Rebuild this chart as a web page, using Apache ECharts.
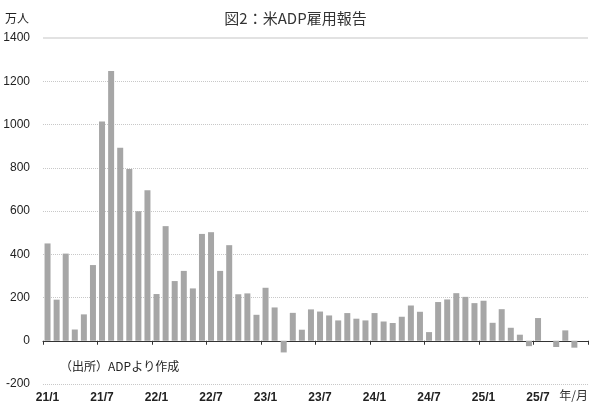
<!DOCTYPE html>
<html lang="ja">
<head>
	<meta charset="UTF-8">
	<title>図2：米ADP雇用報告</title>
	<style type="text/css">
		html, body { margin: 0; padding: 0; background: #fff; }
		#a { width: 591px; height: 411px; }
	</style>
</head>
<body>
	<div id="a"></div>
	<script type="text/javascript" src="https://cdn.jsdelivr.net/npm/echarts@6/dist/echarts.min.js"></script>
	<script type="text/javascript">
		// 月ラベル (21/1 ～ 25/12)
		var months = [];
		for (var y = 21; y <= 25; y++) {
			for (var m = 1; m <= 12; m++) {
				months.push(y + '/' + m);
			}
		}
		// 雇用者数の前月比増減 (万人)、グラフから読み取り
		var jobs2021 = [450, 190, 403, 52, 122, 350, 1014, 1247, 892, 794, 599, 696];
		var jobs2022 = [216, 530, 276, 323, 242, 494, 502, 323, 442, 215, 219, 120];
		var jobs2023 = [245, 154, -54, 129, 51, 145, 135, 117, 94, 128, 102, 94];
		var jobs2024 = [128, 89, 82, 111, 163, 134, 40, 179, 191, 220, 203, 174];
		var jobs2025 = [185, 83, 146, 60, 28, -25, 105, null, -29, 48, -32, null];
		var jobs = jobs2021.concat(jobs2022, jobs2023, jobs2024, jobs2025);
		var yTicks = [-200, 0, 200, 400, 600, 800, 1000, 1200, 1400];

		var jpFont = '"Noto Sans CJK JP", sans-serif';
		var numFont = '"Liberation Sans", Arial, sans-serif';
		var myChart = echarts.init(document.getElementById('a'));
		var option = {
			animation: false,
			textStyle: { fontFamily: jpFont },
			title: [{
				text: '図2：米ADP雇用報告',
				left: 'center',
				top: 6,
				textStyle: { fontSize: 15, fontWeight: 'normal', color: '#333', fontFamily: jpFont }
			}, {
				text: '（出所）ADPより作成',
				left: 55,
				top: 355,
				textStyle: { fontSize: 12, fontWeight: 'normal', color: '#222', fontFamily: jpFont }
			}],
			grid: { left: 43, right: 3, top: 38, bottom: 27, containLabel: false, outerBoundsMode: 'none' },
			xAxis: {
				type: 'category',
				data: months,
				name: '年/月',
				nameLocation: 'end',
				nameGap: 0,
				nameTextStyle: { fontSize: 12, color: '#333', align: 'right', verticalAlign: 'top', padding: [49, 0, 0, 0] },
				axisLine: { show: true, onZero: true, lineStyle: { color: '#333', width: 1 } },
				axisTick: { show: true, interval: 5, alignWithLabel: false, length: 4, lineStyle: { color: '#333' } },
				axisLabel: { interval: 5, fontSize: 12, fontWeight: 'bold', fontFamily: numFont, color: '#222', margin: 8 }
			},
			yAxis: {
				type: 'value',
				min: yTicks[0],
				max: yTicks[yTicks.length - 1],
				interval: 200,
				name: '万人',
				nameLocation: 'end',
				nameGap: 14,
				nameTextStyle: { fontSize: 12, color: '#222', align: 'left', padding: [0, 0, 0, -38] },
				axisLine: { show: false },
				axisTick: { show: false },
				axisLabel: {
					fontSize: 12, fontFamily: numFont, color: '#222', margin: 13,
					formatter: function (v) { return String(v); }
				},
				splitLine: { lineStyle: { color: '#c8c8c8', type: 'dotted', width: 1 } }
			},
			series: [{
				type: 'bar',
				data: jobs,
				barCategoryGap: '34%',
				itemStyle: { color: '#a6a6a6' },
				markLine: {
					silent: true,
					symbol: 'none',
					label: { show: false },
					lineStyle: { color: '#e2e2e2', type: 'solid', width: 2 },
					data: [{ yAxis: yTicks[yTicks.length - 1] }]
				}
			}]
		};
		myChart.setOption(option);
	</script>
</body>
</html>
